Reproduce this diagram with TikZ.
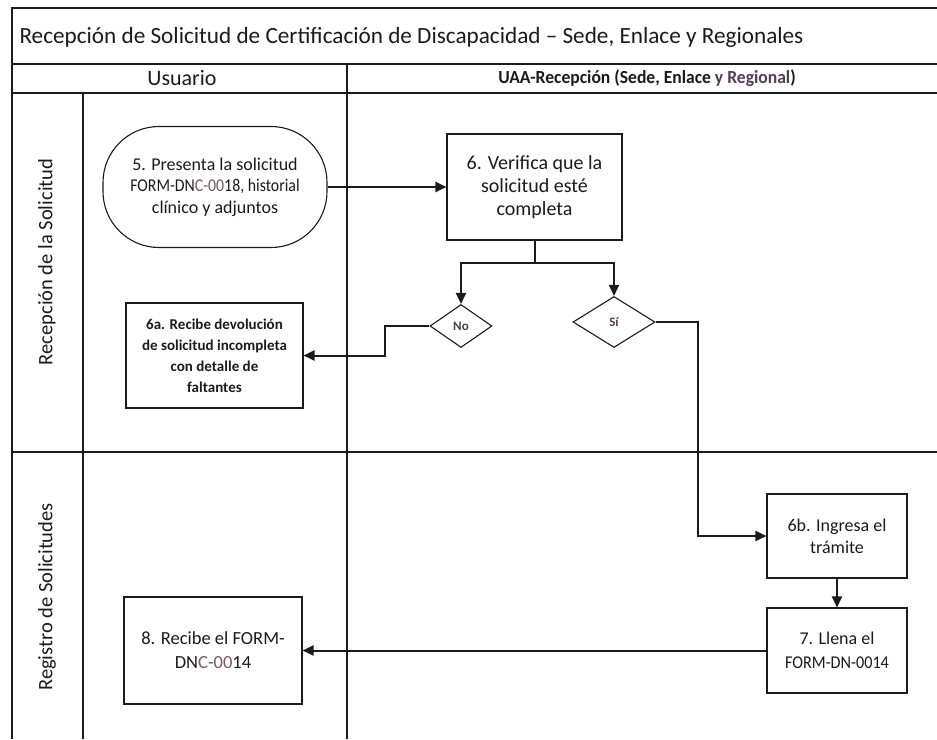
\documentclass[tikz,border=0pt]{standalone}
\usepackage{fontspec}
\setmainfont{Carlito}
\usetikzlibrary{shapes.geometric,arrows.meta,calc}
\definecolor{ink}{HTML}{1E1A1C}
\definecolor{tint}{HTML}{7A5A60}
\definecolor{tintb}{HTML}{5A3A5A}
\begin{document}
\begin{tikzpicture}[x=1pt,y=-1pt,
  frame/.style={line width=1.4pt, draw=ink},
  box/.style={draw=ink, line width=1.1pt, align=center, text=ink,
    font=\fontsize{18}{23}\selectfont, inner sep=2pt},
  dia/.style={diamond, draw=ink, line width=1.1pt, inner sep=0pt,
    font=\bfseries\fontsize{13}{15}\selectfont},
  conn/.style={line width=2pt, draw=ink},
  arr/.style={conn, -{Triangle[length=11pt,width=10pt]}},
  lane/.style={rotate=90, text=ink, font=\fontsize{20.5}{24}\selectfont},
  head/.style={text=ink}
]
\useasboundingbox (0,0) rectangle (937,739);
\fill[white] (0,0) rectangle (937,739);

% frame
\draw[frame] (937,8) -- (12,8) -- (12,739);
\draw[frame] (12,64) -- (937,64);
\draw[frame] (12,93) -- (937,93);
\draw[frame] (12,452) -- (937,452);
\draw[frame] (347,64) -- (347,739);
\draw[frame] (83,93) -- (83,739);

% titles
\node[head, anchor=west, font=\fontsize{23.2}{27}\selectfont] (title) at (16,37) {Recepción de Solicitud de Certificación de Discapacidad -- Sede, Enlace y Regionales};
\node[head, font=\fontsize{22}{26}\selectfont] (husr) at (182,78) {Usuario};
\node[head, font=\bfseries\fontsize{18.5}{21}\selectfont] (huaa) at (647,78) {\scalebox{0.95}[1]{UAA-Recepción (Sede, Enlace {\color{tintb}y Regional})}};
\node[lane] (l1) at (47,262) {Recepción de la Solicitud};
\node[lane] (l2) at (47,597) {Registro de Solicitudes};

% nodes
\node[box, font=\fontsize{18}{21.5}\selectfont, rounded corners=56pt, minimum width=224pt, minimum height=121pt] (n5) at (215,187)
  {5. Presenta la solicitud\\\scalebox{0.88}[1]{FORM-DN{\color{tint}C-00}18, historial}\\clínico y adjuntos};
\node[box, font=\fontsize{20}{23}\selectfont, minimum width=175pt, minimum height=106pt] (n6) at (534.5,187)
  {6. Verifica que la\\solicitud esté\\completa};
\node[dia, minimum width=62pt, minimum height=43pt, text=tint!70!black] (no) at (461,326) {No};
\node[dia, minimum width=82pt, minimum height=51pt, text=tintb] (si) at (614,322) {Sí};
\node[box, font=\bfseries\fontsize{15}{21}\selectfont, minimum width=177pt, minimum height=105pt] (n6a) at (214.5,355.5)
  {6a. Recibe devolución\\de solicitud incompleta\\con detalle de\\faltantes};
\node[box, font=\fontsize{18}{22}\selectfont, minimum width=140pt, minimum height=84pt] (n6b) at (837,536)
  {6b. Ingresa el\\trámite};
\node[box, font=\fontsize{18}{24}\selectfont, minimum width=140pt, minimum height=85pt] (n7) at (837,650.5)
  {7. Llena el\\\scalebox{0.9}[1]{FORM-DN-0014}};
\node[box, font=\fontsize{18.5}{24}\selectfont, minimum width=178pt, minimum height=107pt] (n8) at (213,650.5)
  {8. Recibe el FORM-\\DN{\color{tint}C-00}14};

% connectors
\draw[arr] (n5.east) -- (n6.west);
\draw[arr] (n6.south) -- ++(0,22) -| (no.north);
\draw[arr] (n6.south) -- ++(0,22) -| (si.north);
\draw[arr] (no.west) -- ++(-44,0) |- (n6a.east);
\draw[arr] (si.east) -- ++(42,0) |- (n6b.west);
\draw[arr] (n6b.south) -- (n7.north);
\draw[arr] (n7.west) -- (n8.east);
\end{tikzpicture}
\end{document}
